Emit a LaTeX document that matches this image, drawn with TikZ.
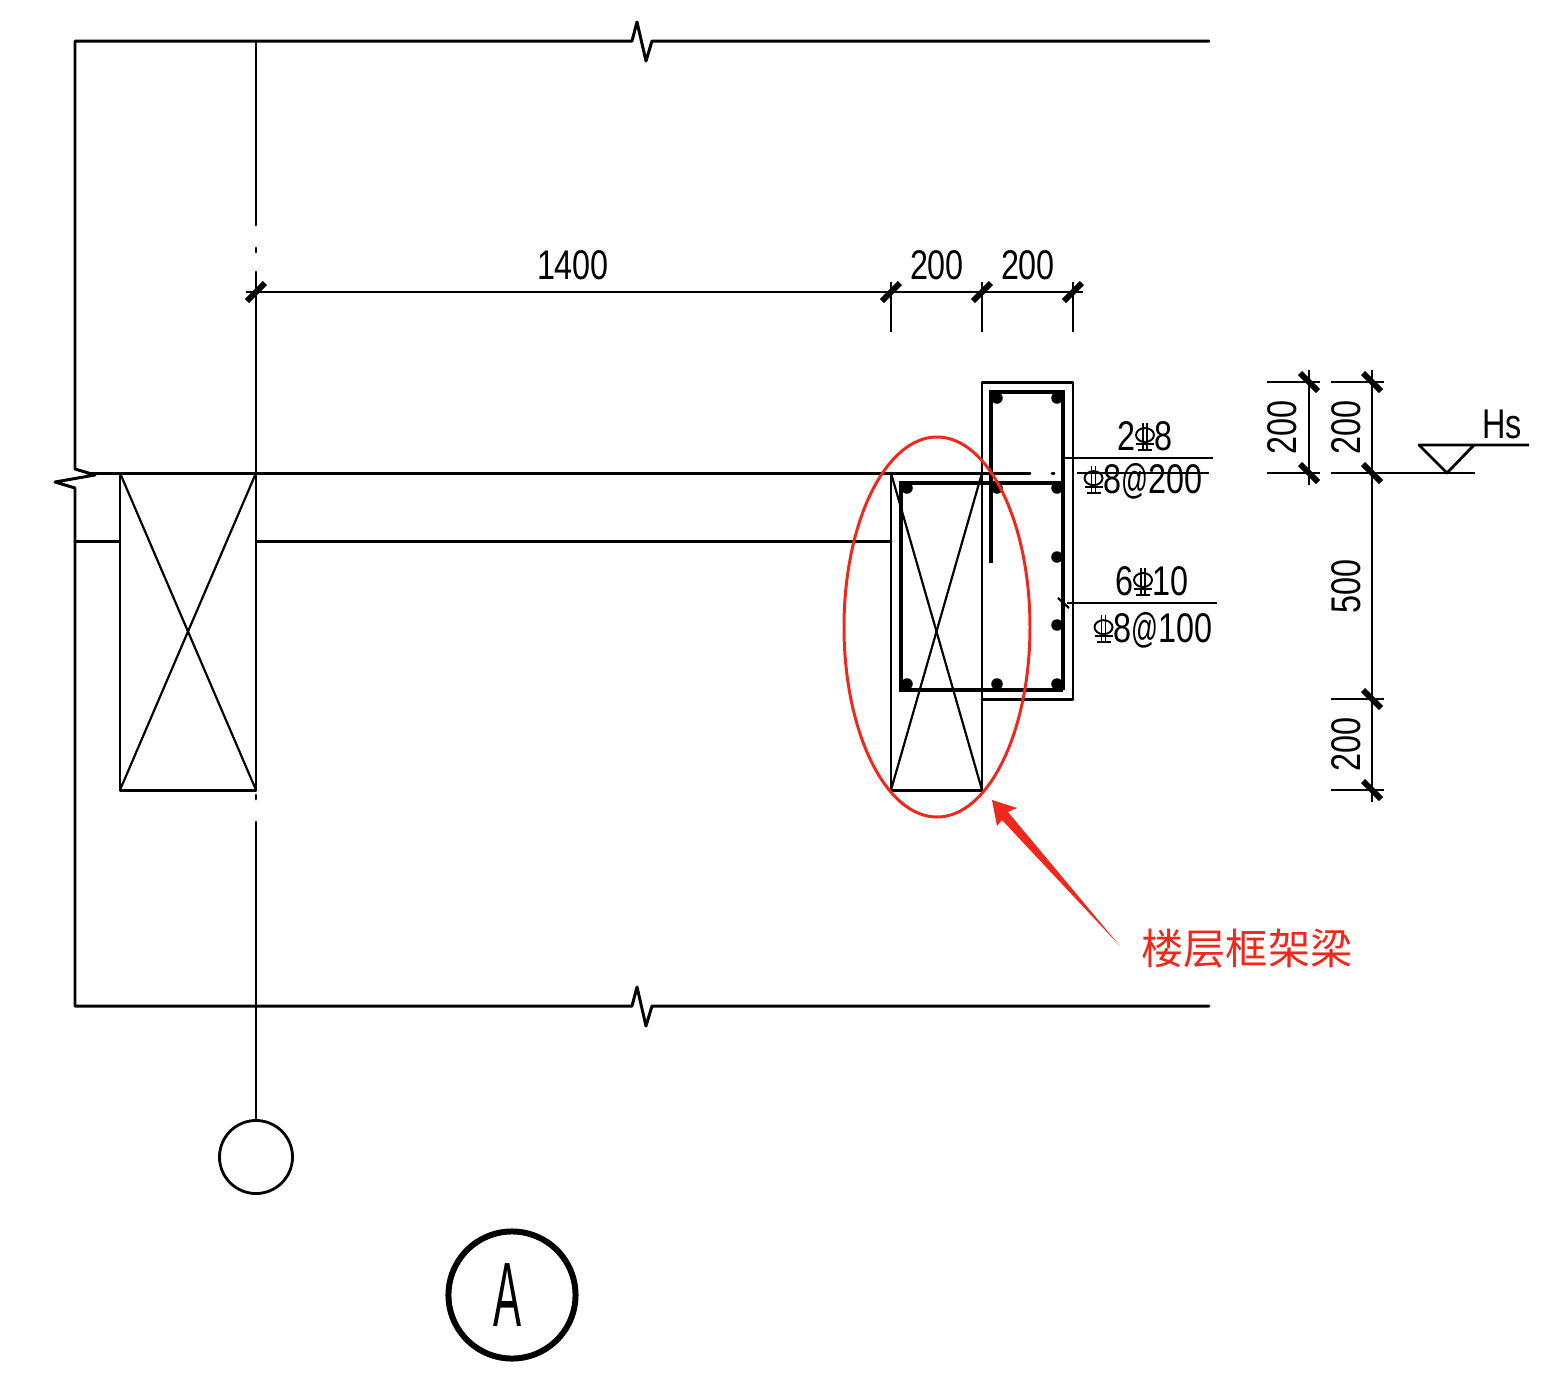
\documentclass[tikz,border=0pt]{standalone}
\usepackage{fontspec}
\usetikzlibrary{calc}
\usetikzlibrary{arrows.meta}
\newfontfamily\cadfont[FakeStretch=0.78]{Liberation Sans}
\newfontfamily\cadfontA[FakeStretch=0.46]{Liberation Sans}
\newfontfamily\cjkfont{Noto Sans CJK SC}
\definecolor{markred}{RGB}{238,40,28}
\newcommand{\barsym}{\tikz[baseline=0pt,x=0.01cm,y=0.01cm,line width=0.55pt]{
	\draw (-9,15) arc[x radius=9, y radius=7, start angle=180, end angle=-180];
	\draw (-2,0) -- (-2,27) (2,0) -- (2,27);
	\draw (-9,6) -- (9,6) (-7,0) -- (7,0);
}}
\newcommand{\atsym}{\scalebox{0.82}[1]{@}}
\tikzset{
	mainline/.style={line width=0.85pt, line cap=round, line join=round},
	thinline/.style={line width=0.62pt},
	rebarline/.style={line width=1.3pt},
	dimline/.style={line width=0.8pt, line join=round},
	dimtext/.style={font=\fontsize{11.8}{12}\cadfont, inner sep=0pt},
	rebardot/.style={circle, fill=black, inner sep=0pt, minimum size=0.115cm},
	dimtick/.pic={\draw[line width=1.7pt] (-9,9) -- (9,-9);},
	dimtickr/.pic={\draw[line width=1.7pt] (-9,-9) -- (9,9);},
}

\begin{document}
\begin{tikzpicture}[x=0.01cm, y=-0.01cm]
	\useasboundingbox (0,0) rectangle (1553,1387);

	% Outline with break marks
	\draw[mainline] (1209,41) -- (652,41) -- (646,61) -- (637,22) -- (632,41) -- (75,41) -- (75,469) -- (95,475) -- (55,482) -- (75,488) -- (75,1006) -- (632,1006) -- (637,987) -- (646,1026) -- (652,1006) -- (1209,1006);

	% Axis
	\node (AxisBubble) [circle, draw, line width=0.8pt, inner sep=0pt, minimum size=0.73cm] at (256,1157) {};
	\coordinate (AxisLow) at (256,822);
	\draw[mainline] (256,41) -- (256,225);
	\draw[mainline] (256,248) -- (256,252);
	\draw[mainline] (256,272) -- (256,790);
	\draw[mainline] (256,795) -- (256,799);
	\draw[mainline] (AxisLow) -- (AxisBubble.north);

	% Slab lines
	\draw[mainline] (88,473) -- (1030,473);
	\draw[mainline] (1052,473) -- (1054,473);
	\draw[mainline] (75,541) -- (120,541);
	\draw[mainline] (256,541) -- (891,541);

	% Columns
	\draw[mainline] (120,473) rectangle (256,790);
	\draw[thinline] (120,473) -- (256,790);
	\draw[thinline] (256,473) -- (120,790);
	\draw[mainline] (891,473) -- (891,790) -- (982,790);
	\draw[thinline] (982,473) -- (982,790);
	\draw[thinline] (891,473) -- (982,790);
	\draw[thinline] (982,473) -- (891,790);

	% Beam
	\draw[mainline] (982,473) -- (982,382) -- (1073,382) -- (1073,699) -- (982,699);
	\draw[rebarline] (991,563) -- (991,392) -- (1063,392) -- (1063,690);
	\draw[rebarline] (1063,483) -- (901,483) -- (901,690) -- (1063,690);

	\node (Bar1) [rebardot] at (997,398) {};
	\node (Bar2) [rebardot] at (1057,398) {};
	\node (Bar3) [rebardot] at (907,488) {};
	\node (Bar4) [rebardot] at (997,488) {};
	\node (Bar5) [rebardot] at (1057,488) {};
	\node (Bar6) [rebardot] at (1057,557) {};
	\node (Bar7) [rebardot] at (1057,625) {};
	\node (Bar8) [rebardot] at (907,684) {};
	\node (Bar9) [rebardot] at (997,684) {};
	\node (Bar10) [rebardot] at (1057,684) {};

	% Top dimensions
	\draw[dimline] (246,292) -- (1083,292);
	\draw[dimline] (891,282) -- (891,332);
	\draw[dimline] (982,282) -- (982,332);
	\draw[dimline] (1073,282) -- (1073,332);
	\pic at (256,292) {dimtick};
	\pic at (891,292) {dimtick};
	\pic at (982,292) {dimtick};
	\pic at (1073,292) {dimtick};
	\node (Dim1400) [dimtext] at (573,265) {1400};
	\node (Dim200A) [dimtext] at (937,265) {200};
	\node (Dim200B) [dimtext] at (1028,265) {200};

	% Right dimensions
	\draw[dimline] (1309,370) -- (1309,485);
	\draw[dimline] (1267,382) -- (1320,382);
	\draw[dimline] (1267,473) -- (1320,473);
	\draw[dimline] (1372,370) -- (1372,802);
	\draw[dimline] (1331,382) -- (1384,382);
	\draw[dimline] (1331,473) -- (1475,473);
	\draw[dimline] (1331,699) -- (1384,699);
	\draw[dimline] (1331,790) -- (1384,790);
	\pic at (1309,382) {dimtickr};
	\pic at (1309,473) {dimtickr};
	\pic at (1372,382) {dimtickr};
	\pic at (1372,473) {dimtickr};
	\pic at (1372,699) {dimtickr};
	\pic at (1372,790) {dimtickr};
	\node (Dim200C) [dimtext, rotate=90] at (1282,427) {200};
	\node (Dim200D) [dimtext, rotate=90] at (1346,427) {200};
	\node (Dim500) [dimtext, rotate=90] at (1346,586) {500};
	\node (Dim200E) [dimtext, rotate=90] at (1346,744) {200};

	% Level mark
	\draw[dimline] (1529,445) -- (1419,445) -- (1447,473) -- (1474,445);
	\node (LevelHs) [dimtext] at (1502,424) {Hs};

	% Rebar labels
	\draw[dimline] (1065,458) -- (1213,458);
	\draw[thinline] (1077,473) -- (1209,473);
	\draw[dimline] (1067,603) -- (1217,603);
	\draw[thinline] (1058,598) -- (1069,608);
	\node (LabelTop) [dimtext] at (1145,436) {2\barsym 8};
	\node (LabelTie) [dimtext] at (1143,481) {\barsym 8\atsym 200};
	\node (LabelSide) [dimtext] at (1152,581) {6\barsym 10};
	\node (LabelTieB) [dimtext] at (1153,630) {\barsym 8\atsym 100};

	% Red marking
	\draw[markred, line width=0.85pt] (937,627) ellipse [x radius=93, y radius=190];
	\fill[markred] (992,800) -- (1017,808) -- (1008,812) -- (1120,946) -- (1002,820) -- (997,826) -- cycle;
	\node (NoteBeam) [text=markred, font=\fontsize{12}{12}\cjkfont, inner sep=0pt] at (1247,949) {楼层框架梁};

	% Section mark
	\node (SectionBubble) [circle, draw, line width=1.7pt, inner sep=0pt, minimum size=1.27cm] at (512,1295) {};
	\node (SectionA) [font=\fontsize{26}{26}\cadfontA, inner sep=0pt] at (508,1295) {A};

\end{tikzpicture}
\end{document}
